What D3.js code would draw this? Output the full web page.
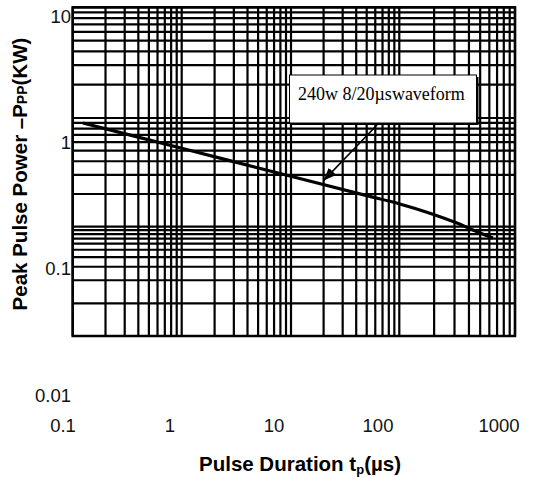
<!DOCTYPE html>
<html>
<head>
<meta charset="utf-8">
<script src="https://cdn.jsdelivr.net/npm/d3@7"></script>
<style>
  body { margin: 0; background: #fff; }
  svg { display: block; background: #fff; }
  .grid line { stroke: #000; stroke-width: 2.2; }
  .tick-label { font-family: "Liberation Sans", Arial, sans-serif; font-size: 18.5px; fill: #111; }
  .axis-title { font-family: "Liberation Sans", Arial, sans-serif; font-weight: bold; font-size: 20.5px; fill: #000; }
  .note { font-family: "Liberation Serif", "Times New Roman", serif; font-size: 18px; fill: #000; }
</style>
</head>
<body>
<svg id="chart" width="541" height="477"></svg>
<script>
// tick labels
const xTickValues = [0.1, 1, 10, 100, 1000];
const xTickLabels = ["0.1", "1", "10", "100", "1000"];
const yTickValues = [10, 1, 0.1, 0.01];
const yTickLabels = ["10", "1", "0.1", "0.01"];

// curve: pulse duration (us) -> peak pulse power (kW)
const pulseUs = [0.124, 0.96, 10.4, 50, 101, 173, 315, 433, 645];
const peakKW = [0.90, 0.532, 0.288, 0.193, 0.162, 0.136, 0.108, 0.0906, 0.071];

const noteText = "240w 8/20\u00b5swaveform";

const svg = d3.select("#chart");

// plot box
const plotLeft = 72.7, plotRight = 515, plotTop = 7.3, plotBottom = 336;

// the printed grid is not an even log grid, so each decade gets its own stretch
const x = d3.scaleLog()
  .domain([0.1, 1, 10, 100, 1000])
  .range([plotLeft, 181.7, 291, 399.3, plotRight]);
const y = d3.scaleLog()
  .domain([0.01, 0.1, 1, 10])
  .range([303.3, 226.7, 118, plotTop]);

// the tick labels sit off the grid in the source
const xLabel = d3.scaleLog().domain([0.1, 1, 100, 1000]).range([63, 170, 378, 499]);
const yLabel = d3.scaleLog().domain([0.01, 10]).range([395, 16.5]);

// grid lines
const grid = svg.append("g").attr("class", "grid");
grid.selectAll(".v")
  .data(x.ticks())
  .enter()
  .append("line")
  .attr("x1", d => x(d))
  .attr("x2", d => x(d))
  .attr("y1", plotTop)
  .attr("y2", plotBottom);
grid.selectAll(".h")
  .data(y.ticks())
  .enter()
  .append("line")
  .attr("x1", plotLeft)
  .attr("x2", plotRight)
  .attr("y1", d => y(d))
  .attr("y2", d => y(d));

// frame
svg.append("rect")
  .attr("x", plotLeft)
  .attr("y", plotTop)
  .attr("width", plotRight - plotLeft)
  .attr("height", plotBottom - plotTop)
  .attr("fill", "none")
  .attr("stroke", "#000")
  .attr("stroke-width", 2.5);

// curve
const points = pulseUs.map((t, i) => [t, peakKW[i]]);
const line = d3.line()
  .x(d => x(d[0]))
  .y(d => y(d[1]))
  .curve(d3.curveMonotoneX);
svg.append("path")
  .datum(points)
  .attr("d", line)
  .attr("fill", "none")
  .attr("stroke", "#000")
  .attr("stroke-width", 3.2);

// annotation box with shadow
const box = { x: 289.5, y: 75, w: 187, h: 48 };
svg.append("rect")
  .attr("x", box.x + 2)
  .attr("y", box.y + 2)
  .attr("width", box.w)
  .attr("height", box.h)
  .attr("fill", "#000");
svg.append("rect")
  .attr("x", box.x)
  .attr("y", box.y)
  .attr("width", box.w)
  .attr("height", box.h)
  .attr("fill", "#fff")
  .attr("stroke", "#000")
  .attr("stroke-width", 1);
svg.append("text")
  .attr("class", "note")
  .attr("x", box.x + 8.5)
  .attr("y", box.y + 25)
  .text(noteText);

// arrow from box to the curve
svg.append("defs").append("marker")
  .attr("id", "arrowhead")
  .attr("viewBox", "0 -5 10 10")
  .attr("refX", 10)
  .attr("refY", 0)
  .attr("markerWidth", 8)
  .attr("markerHeight", 8)
  .attr("markerUnits", "strokeWidth")
  .attr("orient", "auto")
  .append("path")
  .attr("d", "M0,-4L10,0L0,4Z")
  .attr("fill", "#000");
svg.append("line")
  .attr("x1", 377)
  .attr("y1", box.y + box.h + 2)
  .attr("x2", x(20))
  .attr("y2", y(0.26) - 1)
  .attr("stroke", "#000")
  .attr("stroke-width", 1.6)
  .attr("marker-end", "url(#arrowhead)");

// tick labels
svg.append("g")
  .selectAll("text")
  .data(xTickValues)
  .enter()
  .append("text")
  .attr("class", "tick-label")
  .attr("x", d => xLabel(d))
  .attr("y", 432)
  .attr("text-anchor", "middle")
  .text((d, i) => xTickLabels[i]);

svg.append("g")
  .selectAll("text")
  .data(yTickValues)
  .enter()
  .append("text")
  .attr("class", "tick-label")
  .attr("x", 71)
  .attr("y", d => yLabel(d))
  .attr("dy", "0.36em")
  .attr("text-anchor", "end")
  .text((d, i) => yTickLabels[i]);

// axis titles
const xt = svg.append("text")
  .attr("class", "axis-title")
  .attr("x", 300)
  .attr("y", 471)
  .attr("text-anchor", "middle");
xt.append("tspan").text("Pulse Duration t");
xt.append("tspan").attr("font-size", "13px").attr("dy", 3).text("p");
xt.append("tspan").attr("dy", -3).text("(\u00b5s)");

const yt = svg.append("text")
  .attr("class", "axis-title")
  .attr("transform", "translate(27,174) rotate(-90)")
  .attr("text-anchor", "middle");
yt.append("tspan").text("Peak Pulse Power \u2013P");
yt.append("tspan").attr("font-size", "14px").text("PP");
yt.append("tspan").text("(KW)");
</script>
</body>
</html>
